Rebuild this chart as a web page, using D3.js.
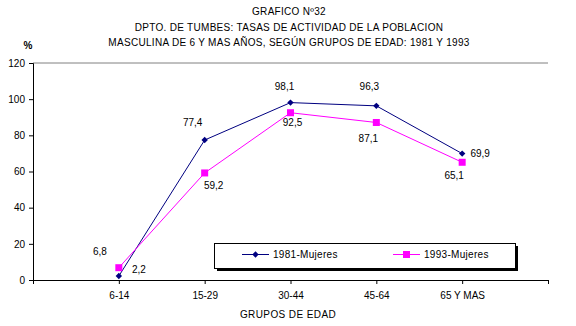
<!DOCTYPE html>
<html><head><meta charset="utf-8">
<script src="https://cdn.jsdelivr.net/npm/d3@7"></script>
<style>
body{margin:0;background:#fff;}
text{font-family:"Liberation Sans",Arial,sans-serif;font-size:10px;fill:#000;}
</style></head>
<body><svg id="c" width="576" height="326"></svg>
<script>
const categories = ["6-14","15-29","30-44","45-64","65 Y MAS"];
const s1981 = [2.2, 77.4, 98.1, 96.3, 69.9];
const s1993 = [6.8, 59.2, 92.5, 87.1, 65.1];
const yTicks = [0,20,40,60,80,100,120];
const titleLines = ["GRAFICO Nº32","DPTO. DE TUMBES: TASAS DE ACTIVIDAD DE LA POBLACION","MASCULINA DE 6 Y MAS AÑOS, SEGÚN GRUPOS DE EDAD: 1981 Y 1993"];
const seriesNames = ["1981-Mujeres","1993-Mujeres"];
// label offsets (layout only)
const off1981 = [[20,-7],[-12,-18],[-6,-16],[-7,-19],[18,0]];
const off1993 = [[-19,-16],[9,13],[2,10],[-8,16],[-8,13]];

const svg = d3.select("#c");
const L=33, R=548, T=63, B=280;
const x = d3.scaleLinear().domain([0, categories.length+1]).range([L,R]);
const y = d3.scaleLinear().domain([0,120]).range([B,T]);

// title
svg.selectAll("text.title").data(titleLines).enter().append("text")
  .attr("x",289).attr("y",(d,i)=>15+i*15.5).attr("text-anchor","middle")
  .style("letter-spacing","0.3px").text(d=>d);
svg.append("text").attr("x",28).attr("y",49).attr("text-anchor","middle").style("font-weight","bold").text("%");

// top grid line
svg.append("line").attr("x1",L).attr("x2",R).attr("y1",y(120)).attr("y2",y(120)).attr("stroke","#808080");

// y axis
const ya = svg.append("g").attr("transform",`translate(${L},0)`)
  .call(d3.axisLeft(y).tickValues(yTicks).tickSize(4).tickPadding(4).tickFormat(d3.format("d")));
ya.select(".domain").attr("stroke","#000");
ya.selectAll("line").attr("stroke","#000");
ya.selectAll("text").style("font-size","10px").style("font-family","Liberation Sans");

// x axis
const xa = svg.append("g").attr("transform",`translate(0,${B})`)
  .call(d3.axisBottom(x).tickValues(d3.range(0,categories.length+2)).tickSize(4).tickPadding(8)
    .tickFormat(i=> (i>=1 && i<=categories.length)? categories[i-1] : ""));
xa.select(".domain").attr("stroke","#000").attr("d",`M${L+0.5},0.5H${R+0.5}`);
xa.selectAll("line").attr("stroke","#000");
xa.selectAll("text").style("font-size","10px").style("font-family","Liberation Sans");
svg.append("text").attr("x",288).attr("y",318).attr("text-anchor","middle").style("letter-spacing","0.4px").text("GRUPOS DE EDAD");

const line = d3.line().x((d,i)=>x(i+1)).y(d=>y(d));
const fmt = v => d3.format(".1f")(v).replace(".",",");

function series(data, color, marker, offs){
  svg.append("path").datum(data).attr("d",line).attr("fill","none").attr("stroke",color).attr("stroke-width",1);
  const g = svg.append("g");
  data.forEach((v,i)=>{
    const cx=x(i+1), cy=y(v);
    if(marker==="diamond"){
      g.append("path").attr("d",d3.symbol(d3.symbolDiamond2,26)()).attr("transform",`translate(${cx},${cy})`).attr("fill",color);
    } else {
      g.append("rect").attr("x",cx-3.5).attr("y",cy-3.5).attr("width",7).attr("height",7).attr("fill",color);
    }
    svg.append("text").attr("x",cx+offs[i][0]).attr("y",cy+offs[i][1]+3.5).attr("text-anchor","middle").text(fmt(v));
  });
}
series(s1981,"#000080","diamond",off1981);
series(s1993,"#FF00FF","square",off1993);

// legend
const lg = svg.append("g");
lg.append("rect").attr("x",217).attr("y",246).attr("width",301).attr("height",25).attr("fill","#000");
lg.append("rect").attr("x",214.5).attr("y",243.5).attr("width",301).attr("height",25).attr("fill","#fff").attr("stroke","#000");
const legItems=[{n:seriesNames[0],c:"#000080",m:"diamond",x:242},{n:seriesNames[1],c:"#FF00FF",m:"square",x:393}];
legItems.forEach(it=>{
  lg.append("line").attr("x1",it.x).attr("x2",it.x+27).attr("y1",254.5).attr("y2",254.5).attr("stroke",it.c);
  if(it.m==="diamond") lg.append("path").attr("d",d3.symbol(d3.symbolDiamond2,26)()).attr("transform",`translate(${it.x+13.5},254.5)`).attr("fill",it.c);
  else lg.append("rect").attr("x",it.x+10).attr("y",251).attr("width",7).attr("height",7).attr("fill",it.c);
  lg.append("text").attr("x",it.x+31).attr("y",258).style("letter-spacing","0.3px").text(it.n);
});
</script></body></html>
